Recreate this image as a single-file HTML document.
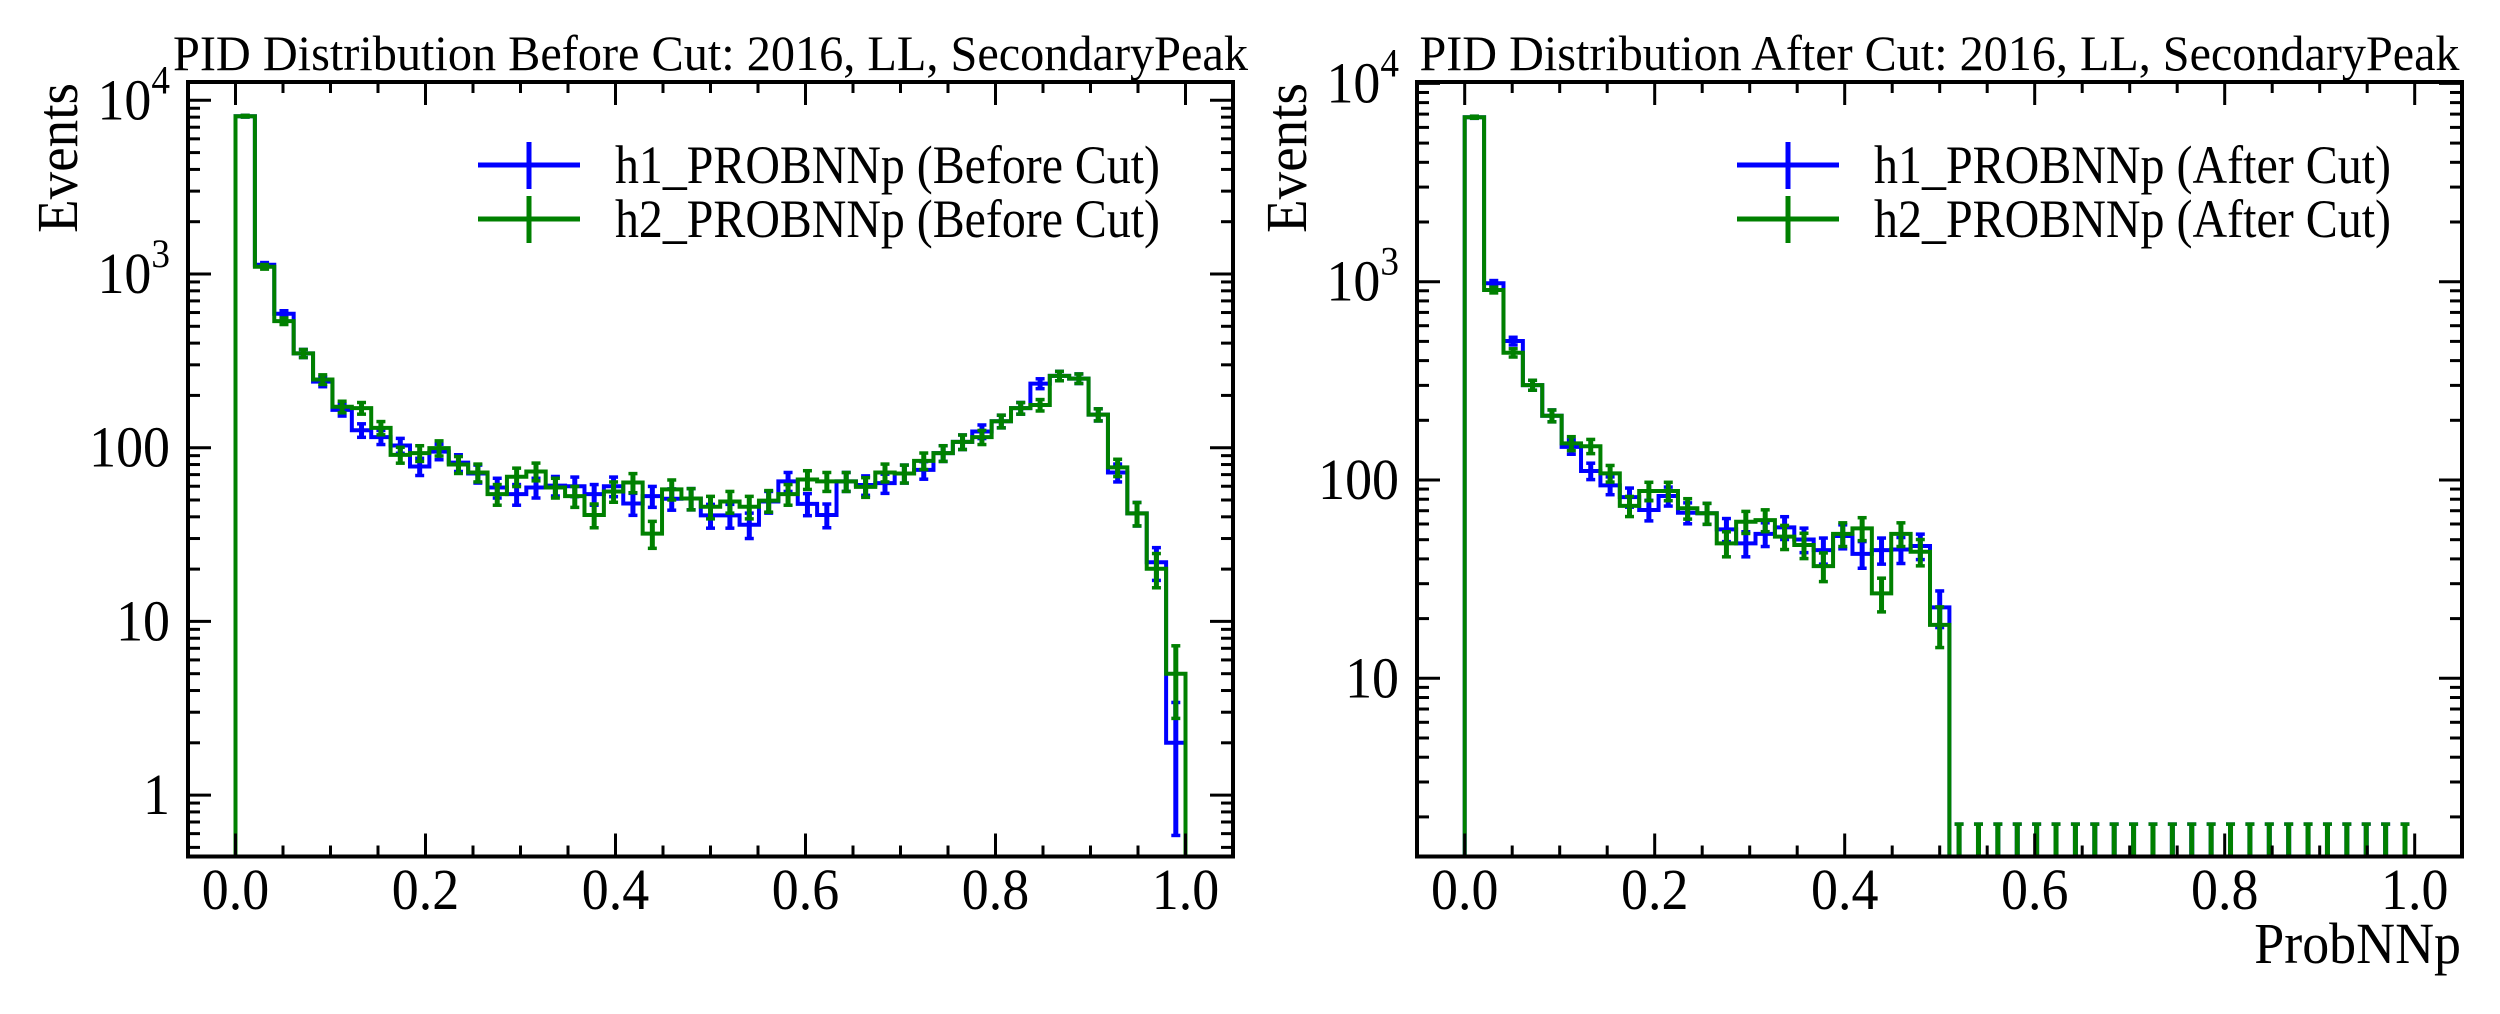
<!DOCTYPE html>
<html><head><meta charset="utf-8"><style>
html,body{margin:0;padding:0;background:#fff;}
svg{display:block;font-family:"Liberation Serif","DejaVu Serif",serif;}
</style></head><body>
<svg id="fig" width="2500" height="1014" viewBox="0 0 2500 1014" xmlns="http://www.w3.org/2000/svg"></svg>
<script>
// ---- data ----
const nBins = 49;
const leftH1 = [8100,1130,590,349,240,165,126,115,103,78,95,82,71,59,54,59,60.5,60,54,60,47.7,52.6,50.8,51,40.8,40.8,36,49,64,47.5,41,64,61,62.5,71,74.5,93,108,124,142,169,234,259,250,155,72,41.9,21.9,2];
const leftH2 = [8100,1100,535,349,247,172,169,130,91,93,99.5,80,72,54,68,73,59,52.6,41,56,63,32,57.6,51,45.7,49,45.7,49.6,54,65.6,64,64,59.5,72,71,84,93,108,115,142,169,176,259,250,155,77,41.9,20.1,5];
const rightH1 = [6750,982,502,301,211,147,111,94,82,70.6,83,68.4,68,56.4,47.9,53.5,57.7,50.1,44.3,52.2,42.4,44.3,44.6,46.5,22.8,0,0,0,0,0,0,0,0,0,0,0,0,0,0,0,0,0,0,0,0,0,0,0,0];
const rightH2 = [6750,908,438,301,211,153,148,108,74,88,88,72,68,47.9,61.6,62.8,51.8,47,36.8,53.5,57,26.8,53.5,43.5,18.6,0,0,0,0,0,0,0,0,0,0,0,0,0,0,0,0,0,0,0,0,0,0,0,0];
const xTickLabels = ["0.0","0.2","0.4","0.6","0.8","1.0"];
const xTickValues = [0,0.2,0.4,0.6,0.8,1.0];
const leftYTicks = [1,10,100,1000,10000];
const leftYLabels = ["1","10","100","10|3","10|4"];
const rightYTicks = [10,100,1000,10000];
const rightYLabels = ["10","100","10|3","10|4"];
const zeroUpperErr = 1.84;

const NS = "http://www.w3.org/2000/svg";
const svg = document.getElementById('fig');
function mk(tag, attrs, parent){
  const e = document.createElementNS(NS, tag);
  for (const k in attrs) e.setAttribute(k, attrs[k]);
  (parent||svg).appendChild(e);
  return e;
}
const SX = 0.93;

function panel(cfg){
  const g = mk('g', {});
  
  
  const L = cfg.left, R = cfg.right, T = 82, B = 856.5;
  const x0 = cfg.x0, sx = 950;
  const X = v => x0 + v*sx;
  const lt = cfg.logTop, ld = cfg.decade;
  const Y = v => lt + (4 - Math.log10(v))*ld;
  const Yc = v => v>0 ? Math.min(B+5, Y(v)) : B+5;
  const bw = 1/nBins;

  const clipId = cfg.name+'-clip';
  const defs = mk('defs', {}, g);
  const cp = mk('clipPath', {id: clipId}, defs);
  mk('rect', {x:L, y:T, width:R-L, height:B-T}, cp);
  const plot = mk('g', {'clip-path':'url(#'+clipId+')'}, g);

  function series(vals, color, nm){
    let d = 'M'+X(0)+','+(B+5);
    for (let i=0;i<vals.length;i++){
      const y = Yc(vals[i]);
      d += ' L'+X(i*bw)+','+y+' L'+X((i+1)*bw)+','+y;
    }
    d += ' L'+X(vals.length*bw)+','+(B+5);
    const p = mk('path', {d:d, fill:'none', stroke:color, 'stroke-width':4, 'stroke-linejoin':'miter'}, plot);
    
    
    for (let i=0;i<vals.length;i++){
      const v = vals[i];
      const cx = X((i+0.5)*bw);
      let lo, hi;
      if (v>0){ const e = Math.sqrt(v); lo = v-e; hi = v+e; } else { lo = 0; hi = zeroUpperErr; }
      const yh = Y(hi), yl = lo>0 ? Y(lo) : B+5;
      const eb = mk('g', {}, plot);
      
      
      mk('line', {x1:cx, x2:cx, y1:yl, y2:yh, stroke:color, 'stroke-width':5}, eb);
      mk('line', {x1:cx-4.5, x2:cx+4.5, y1:yh, y2:yh, stroke:color, 'stroke-width':3.5}, eb);
      if (lo>0) mk('line', {x1:cx-4.5, x2:cx+4.5, y1:yl, y2:yl, stroke:color, 'stroke-width':3.5}, eb);
    }
  }
  series(cfg.h1, '#0000ff', 'h1');
  series(cfg.h2, '#008000', 'h2');

  const tk = mk('g', {stroke:'#000', 'stroke-width':3}, g);
  for (let k=0;k<=20;k++){
    const v = k*0.05; const x = X(v);
    const major = (k%4===0);
    const len = major?23:11;
    mk('line', {x1:x,x2:x,y1:B,y2:B-len}, tk);
    mk('line', {x1:x,x2:x,y1:T,y2:T+len}, tk);
  }
  const lo = Math.log10(cfg.ymin), hi = Math.log10(cfg.ymax);
  for (let dcd=Math.floor(lo); dcd<=Math.ceil(hi); dcd++){
    for (let m=1;m<10;m++){
      const v = m*Math.pow(10,dcd);
      const lv = Math.log10(v);
      if (lv<lo || lv>hi) continue;
      const y = Y(v); const len = m===1?23:12;
      mk('line', {x1:L,x2:L+len,y1:y,y2:y}, tk);
      mk('line', {x1:R,x2:R-len,y1:y,y2:y}, tk);
    }
  }
  const fr = mk('rect', {x:L, y:T, width:R-L, height:B-T, fill:'none', stroke:'#000', 'stroke-width':4}, g);
  
  

  for (let i=0;i<xTickValues.length;i++){
    const t = mk('text', {x:0, y:0, 'font-size':58, 'text-anchor':'middle', fill:'#000', transform:'translate('+X(xTickValues[i])+',909) scale('+SX+',1)'}, g);
    t.textContent = xTickLabels[i];
    
    
  }
  for (let i=0;i<cfg.yTicks.length;i++){
    const y = Y(cfg.yTicks[i]);
    const lab = cfg.yLabels[i];
    const t = mk('text', {x:0, y:0, 'font-size':58, 'text-anchor':'end', fill:'#000', transform:'translate('+cfg.ylabX+','+(y+19)+') scale('+SX+',1)'}, g);
    if (lab.indexOf('|')>=0){
      const parts = lab.split('|');
      const a = mk('tspan', {}, t); a.textContent = parts[0];
      const b = mk('tspan', {'font-size':40, dy:-26}, t); b.textContent = parts[1];
    } else t.textContent = lab;
    
    
  }
  const yt = mk('text', {x:0, y:0, 'font-size':58, 'text-anchor':'end', fill:'#000', textLength:150, lengthAdjust:'spacingAndGlyphs', transform:'translate('+cfg.evX+',83) rotate(-90)'}, g);
  yt.textContent = 'Events';
  
  
  const tt = mk('text', {x:(L+R)/2, y:70, 'font-size':50, 'text-anchor':'middle', fill:'#000', textLength:cfg.titleLen, lengthAdjust:'spacingAndGlyphs'}, g);
  tt.textContent = cfg.title;
  
  
  const lg = mk('g', {}, g);
  
  
  const ents = [['#0000ff', cfg.leg1, 165], ['#008000', cfg.leg2, 219]];
  for (const en of ents){
    const eg = mk('g', {}, lg);
    
    
    const lx = cfg.legX;
    mk('line', {x1:lx, x2:lx+102, y1:en[2], y2:en[2], stroke:en[0], 'stroke-width':5}, eg);
    mk('line', {x1:lx+51, x2:lx+51, y1:en[2]-23, y2:en[2]+24, stroke:en[0], 'stroke-width':5}, eg);
    const tx = mk('text', {x:lx+137, y:en[2]+18, 'font-size':54, fill:'#000', textLength:cfg.legLen, lengthAdjust:'spacingAndGlyphs'}, eg);
    tx.textContent = en[1];
  }
}

panel({name:'before-cut-panel', left:188, right:1233, x0:235.5, logTop:100.3, decade:173.7, ymin:0.44, ymax:12800,
  h1:leftH1, h2:leftH2, yTicks:leftYTicks, yLabels:leftYLabels, ylabX:170, evX:77,
  title:'PID Distribution Before Cut: 2016, LL, SecondaryPeak', titleLen:1075,
  leg1:'h1_PROBNNp (Before Cut)', leg2:'h2_PROBNNp (Before Cut)', legX:478, legLen:545});
panel({name:'after-cut-panel', left:1417, right:2462, x0:1464.7, logTop:83.4, decade:198.3, ymin:1.22, ymax:10200,
  h1:rightH1, h2:rightH2, yTicks:rightYTicks, yLabels:rightYLabels, ylabX:1399, evX:1306,
  title:'PID Distribution After Cut: 2016, LL, SecondaryPeak', titleLen:1040,
  leg1:'h1_PROBNNp (After Cut)', leg2:'h2_PROBNNp (After Cut)', legX:1737, legLen:517});

const xl = document.createElementNS(NS,'text');
xl.setAttribute('x', 0); xl.setAttribute('y', 0); xl.setAttribute('font-size', 58); xl.setAttribute('text-anchor','end');
xl.setAttribute('transform', 'translate(2461,963) scale(0.93,1)');
xl.textContent = 'ProbNNp';


svg.appendChild(xl);
</script>
</body></html>
